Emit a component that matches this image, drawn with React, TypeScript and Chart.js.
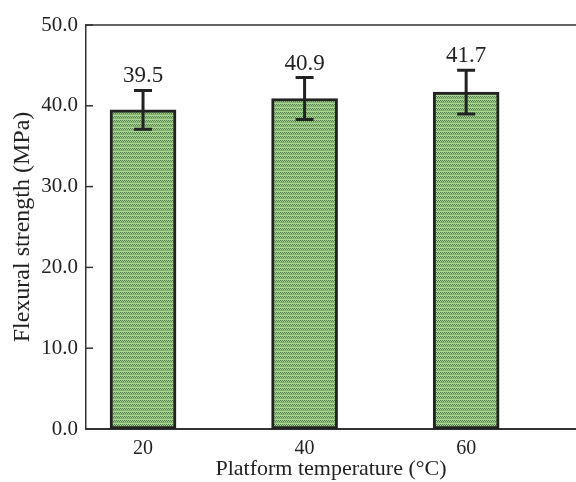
import React, { useEffect, useRef } from "react";
import { Chart, registerables } from "chart.js";

Chart.register(...registerables);

const temperatures = [20, 40, 60];
const strengths = [39.5, 40.9, 41.7];
const errors = [2.4, 2.6, 2.7];
const yTicks = [0, 10, 20, 30, 40, 50];

const FONT = "'Liberation Serif', 'Times New Roman', serif";
const INK = "#222";

function makePattern(): CanvasPattern | string {
  const c = document.createElement("canvas");
  c.width = 4;
  c.height = 4;
  const g = c.getContext("2d");
  if (!g) return "#9cc884";
  g.fillStyle = "#aad494";
  g.fillRect(0, 0, 4, 4);
  g.fillStyle = "#4f7d47";
  g.fillRect(0, 0, 1, 1);
  g.fillRect(1, 1, 1, 1);
  g.fillRect(3, 1, 1, 1);
  g.fillRect(2, 0, 1, 1);
  g.fillStyle = "#84b571";
  g.fillRect(0, 2, 4, 1);
  const p = g.createPattern(c, "repeat");
  return p || "#9cc884";
}

const overlay = {
  id: "overlay",
  afterDatasetsDraw(chart: any) {
    const ctx = chart.ctx;
    const area = chart.chartArea;
    const ys = chart.scales.y;
    const meta = chart.getDatasetMeta(0);
    ctx.save();
    ctx.strokeStyle = "#333";
    ctx.lineWidth = 1.5;
    ctx.beginPath();
    ctx.moveTo(area.left, area.top);
    ctx.lineTo(area.right, area.top);
    ctx.stroke();
    yTicks.forEach((v) => {
      const py = ys.getPixelForValue(v);
      ctx.beginPath();
      ctx.moveTo(area.left, py);
      ctx.lineTo(area.left + 7, py);
      ctx.stroke();
    });
    ctx.strokeStyle = INK;
    ctx.lineWidth = 3;
    meta.data.forEach((bar: any, i: number) => {
      const x = bar.x;
      const top = ys.getPixelForValue(strengths[i] + errors[i]);
      const bot = ys.getPixelForValue(strengths[i] - errors[i]);
      ctx.beginPath();
      ctx.moveTo(x, top);
      ctx.lineTo(x, bot);
      ctx.moveTo(x - 9, top);
      ctx.lineTo(x + 9, top);
      ctx.moveTo(x - 9, bot);
      ctx.lineTo(x + 9, bot);
      ctx.stroke();
      ctx.fillStyle = INK;
      ctx.font = `23px ${FONT}`;
      ctx.textAlign = "center";
      ctx.textBaseline = "alphabetic";
      ctx.fillText(strengths[i].toFixed(1), x, top - 8);
    });
    ctx.restore();
  },
};

export default function App() {
  const ref = useRef<HTMLCanvasElement | null>(null);
  useEffect(() => {
    if (!ref.current) return;
    const pattern = makePattern();
    const chart = new Chart(ref.current, {
      type: "bar",
      data: {
        datasets: [
          {
            data: temperatures.map((t, i) => ({ x: t, y: strengths[i] })),
            backgroundColor: pattern as any,
            borderColor: INK,
            borderWidth: 3,
            borderSkipped: false,
            barThickness: 66,
          },
        ],
      },
      options: {
        animation: false,
        responsive: false,
        layout: { padding: { top: 25, right: 0, left: 0, bottom: 0 } },
        plugins: { legend: { display: false }, tooltip: { enabled: false } },
        scales: {
          x: {
            type: "linear",
            offset: false,
            min: 12.94,
            max: 73.6,
            afterBuildTicks: (s: any) => {
              s.ticks = temperatures.map((v) => ({ value: v }));
            },
            afterFit: (s: any) => {
              s.height = 53;
            },
            grid: { display: false, drawTicks: false, offset: false },
            border: { display: true, color: "#333", width: 2 },
            ticks: {
              color: INK,
              font: { family: FONT, size: 20 },
              padding: 8,
              callback: (v: any) => String(v),
            },
            title: {
              display: true,
              text: "Platform temperature (°C)",
              color: INK,
              font: { family: FONT, size: 22 },
              padding: { top: -4, bottom: 0 },
            },
          },
          y: {
            min: 0,
            max: 50,
            afterBuildTicks: (s: any) => {
              s.ticks = yTicks.map((v) => ({ value: v }));
            },
            afterFit: (s: any) => {
              s.width = 86;
            },
            grid: { display: false, drawTicks: false },
            border: { display: true, color: "#333", width: 1.5 },
            ticks: {
              color: INK,
              font: { family: FONT, size: 21 },
              padding: 8,
              callback: (v: any) => Number(v).toFixed(1),
            },
            title: {
              display: true,
              text: "Flexural strength (MPa)",
              color: INK,
              font: { family: FONT, size: 24 },
              padding: { top: 8, bottom: 0 },
            },
          },
        },
      },
      plugins: [overlay],
    });
    return () => chart.destroy();
  }, []);
  return (
    <div style={{ position: "fixed", left: 0, top: 0, width: 576, height: 482, background: "#fff" }}>
      <canvas ref={ref} width={576} height={482} style={{ width: 576, height: 482, display: "block" }} />
    </div>
  );
}
